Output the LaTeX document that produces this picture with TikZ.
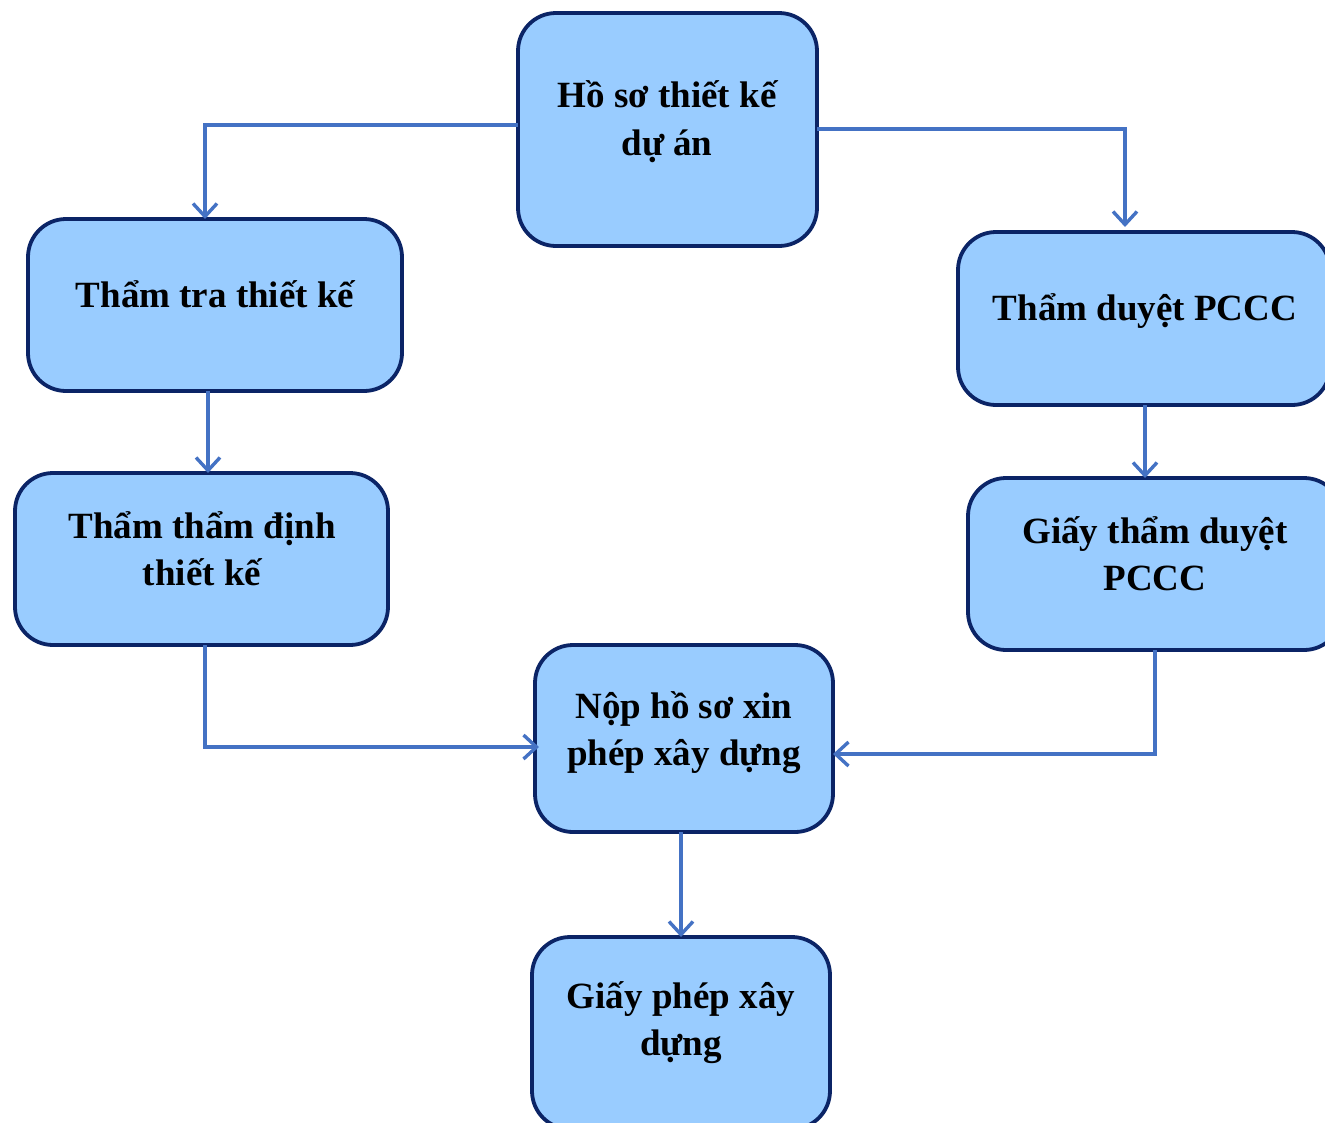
\documentclass[tikz,border=0pt]{standalone}
\usepackage{fontspec}
\setmainfont{Liberation Serif}
\usetikzlibrary{arrows.meta}
\definecolor{boxfill}{HTML}{99CCFF}
\definecolor{boxline}{HTML}{0B2466}
\definecolor{conncol}{HTML}{4472C4}
\tikzset{
  boxnode/.style={draw=boxline, fill=boxfill, line width=3.8pt, rounded corners=38pt, inner sep=0pt, outer sep=0pt},
  lbl/.style={anchor=base, inner sep=0pt, font=\fontsize{37}{44}\selectfont\bfseries},
  conn/.style={draw=conncol, line width=3.2pt, -{Straight Barb[length=13pt,width=24pt,line width=3.4pt]}},
}
\begin{document}
\begin{tikzpicture}[x=1pt,y=-1pt]
\useasboundingbox (0,0) rectangle (1325,1122);
\clip (0,0) rectangle (1325,1122);
% boxes
\node[boxnode, minimum width=299pt, minimum height=233pt] (b1) at (667.5,129.5) {};
\node[boxnode, minimum width=374pt, minimum height=172pt] (b2) at (215,305) {};
\node[boxnode, minimum width=372pt, minimum height=173pt] (b3) at (1144,318.5) {};
\node[boxnode, minimum width=373pt, minimum height=172pt] (b4) at (201.5,559) {};
\node[boxnode, minimum width=374pt, minimum height=172pt] (b5) at (1155,564) {};
\node[boxnode, minimum width=298pt, minimum height=187pt] (b6) at (684,738.5) {};
\node[boxnode, minimum width=298pt, minimum height=192pt] (b7) at (681,1033) {};
% labels
\node[lbl] (t1a) at (667,107) {Hồ sơ thiết kế};
\node[lbl] (t1b) at (667,155) {dự án};
\node[lbl] (t2) at (215,307) {Thẩm tra thiết kế};
\node[lbl] (t3) at (1145,320) {Thẩm duyệt PCCC};
\node[lbl] (t4a) at (202,538) {Thẩm thẩm định};
\node[lbl] (t4b) at (202,585) {thiết kế};
\node[lbl] (t5a) at (1155,543) {Giấy thẩm duyệt};
\node[lbl] (t5b) at (1155,590) {PCCC};
\node[lbl] (t6a) at (684,718) {Nộp hồ sơ xin};
\node[lbl] (t6b) at (684,765) {phép xây dựng};
\node[lbl] (t7a) at (681,1008) {Giấy phép xây};
\node[lbl] (t7b) at (681,1055) {dựng};
% connectors
\draw[conn] (b1.west |- 0,125) -| (b2.north -| 205,0);
\draw[conn] (b1.east |- 0,129) -| ([yshift=5pt]b3.north -| 1125,0);
\draw[conn] (b2.south -| 208,0) -- (b4.north -| 208,0);
\draw[conn] (b3.south -| 1145,0) -- (b5.north -| 1145,0);
\draw[conn] (b4.south -| 205,0) |- ([xshift=4pt]b6.west |- 0,747);
\draw[conn] (b5.south -| 1155,0) |- (b6.east |- 0,754);
\draw[conn] (b6.south -| 681,0) -- (b7.north -| 681,0);
\end{tikzpicture}
\end{document}
